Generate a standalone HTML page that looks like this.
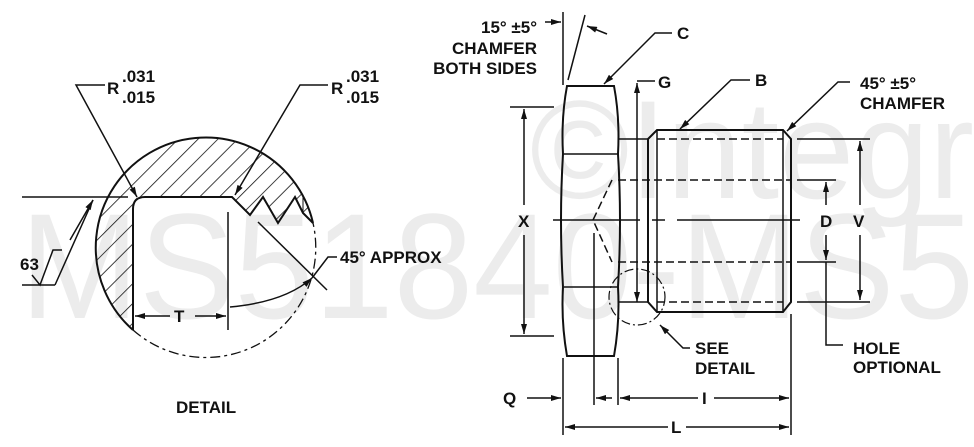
<!DOCTYPE html>
<html><head><meta charset="utf-8"><style>
html,body{margin:0;padding:0;background:#fff}
svg{display:block}
text{font-family:"Liberation Sans",Arial,sans-serif;font-weight:bold;fill:#111}
</style></head><body>
<svg width="974" height="447" viewBox="0 0 974 447" xmlns="http://www.w3.org/2000/svg">
<defs>
<marker id="a" viewBox="0 0 10 6" refX="10" refY="3" markerWidth="14" markerHeight="6" markerUnits="userSpaceOnUse" orient="auto"><path d="M0,0L10,3L0,6z" fill="#111"/></marker>
<pattern id="hp" width="14" height="14" patternUnits="userSpaceOnUse" patternTransform="rotate(45)"><line x1="0" y1="0" x2="0" y2="14" stroke="#111" stroke-width="1.6"/></pattern>
</defs>
<!-- watermark -->
<text x="20" y="318" font-size="150" style="font-weight:normal;fill:#ececec" textLength="954" lengthAdjust="spacingAndGlyphs">MS51840-MS5</text>
<text x="530" y="198" font-size="140" style="font-weight:normal;fill:#ececec" textLength="444" lengthAdjust="spacingAndGlyphs">©Integr</text>
<g stroke="#111" fill="none" stroke-width="1.5">
<!-- DETAIL -->
<path d="M133,330 L133,209 Q133,197 145,197 L232,197 L250,215 L263,197 L278,223 L295,197 L303,213 L313,223 A110,110 0 1 0 133,330 Z" fill="url(#hp)" stroke="none"/>
<path d="M133,330 L133,209 Q133,197 145,197 L232,197 L250,215 L263,197 L278,223 L295,197 L303,213 L313,223" stroke-width="2"/>
<path d="M303,213 L303,197 M278,223 L290,205" stroke-width="1"/>
<path d="M313,223 A110,110 0 1 0 133,330" stroke-width="2"/>
<path d="M133,330 A110,110 0 0 0 313,223" stroke-width="1.3" stroke-dasharray="10,4,3,4"/>
<path d="M22,197 L128,197"/>
<path d="M228,212 L228,330"/>
<path d="M170,316 L135,316" marker-end="url(#a)"/>
<path d="M195,316 L226,316" marker-end="url(#a)"/>
<path d="M258,222 L327,290"/>
<path d="M230,307 Q285,302 312,278" marker-end="url(#a)"/>
<path d="M337,257 L328,257 L312,278"/>
<path d="M22,285 L55,285 M32,275 L40,285 L53,250 L62,250 M55,285 L93,200" />
<path d="M70,240 L93,200" marker-end="url(#a)"/>
<path d="M105,85 L76,85 L137,197" marker-end="url(#a)"/>
<path d="M328,85 L300,85 L235,195" marker-end="url(#a)"/>
<!-- HEX -->
<path d="M567,86 L614,86 Q620,118 618,154 Q622,220 618,287 Q620,322 614,356 L567,356 Q561,322 563,287 Q559,220 563,154 Q561,118 567,86 Z" stroke-width="2"/>
<path d="M564,154 L618,154 M564,287 L618,287"/>
<!-- shank -->
<path d="M618,139 L648,139 M618,302 L648,302"/>
<path d="M648,139 L657,130 L783,130 L791,139 L791,302 L783,312 L657,312 L648,302 Z" stroke-width="2"/>
<path d="M657,130 L657,312 M783,130 L783,312"/>
<path d="M657,139 L783,139 M657,302 L783,302" stroke-dasharray="8,4"/>
<path d="M618,180 L791,180 M618,262 L791,262 M612,180 L593,220 L612,262" stroke-dasharray="8,4"/>
<path d="M553,220 L640,220 M652,220 L665,220 M677,220 L800,220"/>
<!-- G -->
<path d="M637,81 L655,81"/>
<path d="M637,200 L637,83" marker-end="url(#a)"/>
<path d="M637,200 L637,302" marker-end="url(#a)"/>
<!-- X -->
<path d="M510,107 L554,107 M510,336 L554,336"/>
<path d="M524,205 L524,109" marker-end="url(#a)"/>
<path d="M524,235 L524,334" marker-end="url(#a)"/>
<!-- right dims -->
<path d="M797,139 L870,139 M797,302 L870,302 M797,180 L836,180 M797,262 L836,262"/>
<path d="M826,205 L826,182" marker-end="url(#a)"/>
<path d="M826,235 L826,260" marker-end="url(#a)"/>
<path d="M826,262 L826,345 L843,345"/>
<path d="M860,205 L860,141" marker-end="url(#a)"/>
<path d="M860,235 L860,300" marker-end="url(#a)"/>
<!-- bottom -->
<path d="M563,358 L563,435 M594,233 L594,405 M618,358 L618,405 M791,314 L791,435"/>
<path d="M527,398 L561,398" marker-end="url(#a)"/>
<path d="M612,398 L596,398" marker-end="url(#a)"/>
<path d="M698,398 L620,398" marker-end="url(#a)"/>
<path d="M714,398 L789,398" marker-end="url(#a)"/>
<path d="M668,427 L565,427" marker-end="url(#a)"/>
<path d="M686,427 L789,427" marker-end="url(#a)"/>
<!-- top -->
<path d="M563,12 L563,85 M585,15 L568,80"/>
<path d="M545,22 L561,22" marker-end="url(#a)"/>
<path d="M607,34 L587,26" marker-end="url(#a)"/>
<path d="M672,33 L655,33 L604,84" marker-end="url(#a)"/>
<path d="M750,80 L731,80 L680,129" marker-end="url(#a)"/>
<path d="M850,82 L838,82 L787,131" marker-end="url(#a)"/>
<!-- see detail -->
<circle cx="637" cy="297" r="28" stroke-width="1.2" stroke-dasharray="9,3,2,3"/>
<path d="M690,348 L683,348 L660,325" marker-end="url(#a)"/>
</g>
<g font-size="17">
<text x="107" y="94">R</text><text x="122" y="82">.031</text><text x="122" y="103">.015</text>
<text x="331" y="94">R</text><text x="346" y="82">.031</text><text x="346" y="103">.015</text>
<text x="20" y="270">63</text>
<text x="174" y="322">T</text>
<text x="340" y="263">45° APPROX</text>
<text x="176" y="413">DETAIL</text>
<text x="537" y="33" text-anchor="end">15° ±5°</text>
<text x="537" y="54" text-anchor="end">CHAMFER</text>
<text x="537" y="74" text-anchor="end">BOTH SIDES</text>
<text x="677" y="39">C</text>
<text x="658" y="88">G</text>
<text x="755" y="86">B</text>
<text x="860" y="89">45° ±5°</text>
<text x="860" y="109">CHAMFER</text>
<text x="518" y="227">X</text>
<text x="820" y="227">D</text>
<text x="853" y="227">V</text>
<text x="695" y="354">SEE</text>
<text x="695" y="374">DETAIL</text>
<text x="853" y="354">HOLE</text>
<text x="853" y="373">OPTIONAL</text>
<text x="503" y="404">Q</text>
<text x="702" y="404">I</text>
<text x="671" y="433">L</text>
</g>
</svg>
</body></html>
